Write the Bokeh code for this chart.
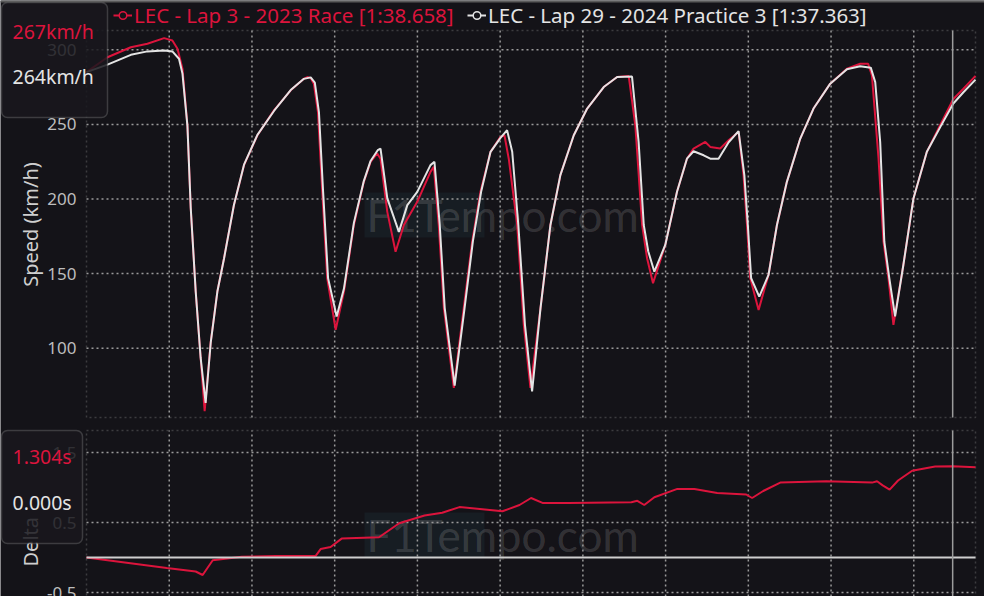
import math
from bokeh.plotting import figure
from bokeh.models import Range1d, Span, Label, BoxAnnotation, Legend, LegendItem
from bokeh.core.properties import value
from bokeh.embed import file_html
from bokeh.resources import INLINE

# ---------------- data ----------------
lap_labels = ["LEC - Lap 3 - 2023 Race [1:38.658]",
              "LEC - Lap 29 - 2024 Practice 3 [1:37.363]"]

red_dist = [0, 127, 268, 368, 469, 519, 550, 580, 610, 630, 660, 690, 714, 751, 791, 831, 891, 952,
            1033, 1133, 1234, 1314, 1335, 1355, 1374, 1399, 1425, 1455, 1506, 1556, 1616, 1676, 1717,
            1757, 1777, 1818, 1868, 1918, 1999, 2079, 2099, 2129, 2160, 2220, 2280, 2331, 2381, 2442,
            2502, 2526, 2552, 2603, 2643, 2683, 2744, 2804, 2864, 2945, 3026, 3126, 3207, 3277, 3317,
            3358, 3388, 3424, 3498, 3569, 3629, 3669, 3740, 3770, 3830, 3881, 3941, 3971, 3992, 4012,
            4062, 4122, 4173, 4233, 4314, 4394, 4495, 4596, 4676, 4724, 4747, 4787, 4817, 4847, 4877,
            4937, 4998, 5079, 5159, 5239, 5300, 5373]
red_speed = [285, 295, 301.7, 304, 307.8, 306.2, 300.7, 287.3, 249.4, 194, 138, 93.5, 57.8, 104.5, 138,
             160.3, 195.9, 222.7, 242.7, 259.4, 272.8, 280.6, 281.7, 281, 277.3, 258.3, 204.8, 146.9,
             112.4, 138, 182.6, 211.5, 224.9, 230.5, 227, 191.4, 164.7, 182.6, 198.1, 218.2, 221.5,
             182.6, 126.9, 73.4, 126.9, 171.4, 204.8, 231.6, 241.6, 242.7, 227, 182.6, 115.7, 73.4,
             126.9, 182.6, 216, 242.7, 260.6, 275, 281.7, 282.4, 249.4, 182.6, 160.3, 143.6, 169.2,
             204.8, 227, 233.8, 238.2, 234.9, 233.8, 239.4, 244.9, 216, 182.6, 146.9, 125.7, 149.1,
             182.6, 211.5, 240.5, 260.6, 277.3, 287.3, 290.6, 290.6, 282.8, 227, 171.4, 146.9, 115.7,
             155.8, 200.4, 231.6, 249.4, 267, 273.9, 282.5]

white_dist = [0, 127, 268, 368, 469, 519, 559, 580, 610, 630, 660, 690, 720, 751, 791, 831, 891, 952,
              1033, 1133, 1234, 1314, 1355, 1380, 1405, 1430, 1460, 1512, 1556, 1616, 1676, 1717, 1760,
              1777, 1818, 1888, 1939, 1999, 2079, 2103, 2135, 2165, 2225, 2285, 2335, 2385, 2442, 2502,
              2542, 2573, 2610, 2650, 2693, 2744, 2804, 2864, 2945, 3026, 3126, 3207, 3297, 3337, 3368,
              3395, 3432, 3498, 3569, 3629, 3669, 3730, 3770, 3820, 3881, 3941, 3976, 3997, 4017, 4066,
              4122, 4173, 4233, 4314, 4394, 4495, 4596, 4676, 4740, 4767, 4797, 4822, 4852, 4887, 4937,
              4998, 5079, 5159, 5239, 5300, 5373]
white_speed = [285, 290, 296.6, 298.9, 299.5, 298.9, 294, 284, 249, 194, 138, 93.5, 63.4, 104, 138, 160,
               196, 223, 243, 259, 273, 280.5, 281.5, 278, 258, 205, 147, 121.3, 140, 184, 212, 225.5,
               232.7, 233.8, 200.4, 178, 195.9, 204.8, 222.7, 224.9, 182.6, 126.9, 75, 126.9, 171.4,
               204.8, 231.6, 241, 246.1, 231.6, 182.6, 115.7, 71.1, 126.9, 182.6, 216, 242.7, 260.6,
               275, 281.7, 282, 238.2, 182.6, 165, 151.3, 169.2, 204.8, 227, 232, 229.3, 227, 227, 238,
               245.5, 216, 182.6, 146.9, 134.6, 149.1, 182.6, 211.5, 240.5, 260.6, 277.3, 287, 289, 288,
               278.3, 238.2, 171.4, 146.9, 121.3, 155.8, 200.4, 231.6, 248, 264, 271.5, 280]

delta_dist = [0, 485, 660, 702, 763, 938, 1143, 1384, 1415, 1475, 1542, 1768, 1890, 2043, 2150, 2254,
              2393, 2514, 2617, 2687, 2756, 2913, 3293, 3329, 3371, 3432, 3571, 3674, 3812, 3987, 4023,
              4090, 4193, 4471, 4748, 4778, 4812, 4854, 4905, 4990, 5129, 5235, 5373]
delta_red = [0, -0.15, -0.2, -0.25, -0.04, 0.01, 0.02, 0.02, 0.12, 0.15, 0.27, 0.29, 0.49, 0.6, 0.64,
             0.72, 0.69, 0.66, 0.75, 0.85, 0.78, 0.78, 0.79, 0.81, 0.75, 0.86, 0.98, 0.98, 0.92, 0.9,
             0.85, 0.95, 1.07, 1.09, 1.07, 1.09, 1.03, 0.97, 1.10, 1.24, 1.30, 1.304, 1.29]
delta_white = [0.0 for _ in delta_dist]   # reference lap

lap_length = 5373
hover_dist = 5235
hover_speed = [267, 264]
hover_delta = [1.304, 0.000]

speed_ticks = [100, 150, 200, 250, 300]
delta_ticks = [-0.5, 0.5, 1.5]
dist_grid = [500, 1000, 1500, 2000, 2500, 3000, 3500, 4000, 4500, 5000]

# ---------------- style / layout (page pixels) ----------------
BG = "#141318"
RED = "#dc143c"
WHITE = "#e4e4e4"
GRID = "#9a9a9a"
FONT = "Noto Sans"

W, H = 984, 596
F_L, F_R = 86, 975              # panel frames, page px
T_TOP, T_BOT = 30, 417          # speed panel
SP_LO, SP_HI = 53.6, 312.9
B_TOP = 430                     # delta panel (bottom runs off the page)
D_REF_PX, D_REF_VAL, D_PX_PER = 452, 1.5, 70.0


def dx(px):
    return (px - F_L) / (F_R - F_L) * lap_length


def sy(py):
    return SP_HI - (py - T_TOP) / (T_BOT - T_TOP) * (SP_HI - SP_LO)


def ly(py):
    return D_REF_VAL - (py - D_REF_PX) / D_PX_PER


DL_HI = ly(B_TOP)
DL_LO = ly(H + 30)

p = figure(width=W, height=H, x_range=Range1d(dx(0), dx(W)), y_range=Range1d(sy(H), sy(0)),
           x_axis_location=None, y_axis_location=None, min_border=0,
           output_backend="svg", toolbar_location=None)
p.extra_y_ranges = {"delta": Range1d(ly(H), ly(0))}
p.background_fill_color = BG
p.border_fill_color = BG
p.outline_line_color = None
p.grid.visible = False

grid_kw = dict(line_color=GRID, line_dash="2 3", line_width=1.5)

# ---- panel frames and grids ----
for yname, lo, hi, ticks in (("default", SP_LO, SP_HI, speed_ticks),
                             ("delta", DL_LO, DL_HI, delta_ticks)):
    p.add_layout(BoxAnnotation(left=0, right=lap_length, bottom=lo, top=hi, y_range_name=yname,
                               fill_alpha=0, line_color=GRID, line_dash="2 3", line_width=1.5,
                               level="underlay"))
    p.segment(x0=dist_grid, x1=dist_grid, y0=[lo] * len(dist_grid), y1=[hi] * len(dist_grid),
              y_range_name=yname, **grid_kw)
    p.segment(x0=[0] * len(ticks), x1=[lap_length] * len(ticks), y0=ticks, y1=ticks,
              y_range_name=yname, **grid_kw)

# ---- watermarks ----
for yname, yfun, yt, yb in (("default", sy, 192, 237), ("delta", ly, 512, 557)):
    p.add_layout(BoxAnnotation(left=dx(364), right=dx(484), top=yfun(yt), bottom=yfun(yb),
                               y_range_name=yname, fill_color="#1d3139", fill_alpha=0.35,
                               line_alpha=0, level="underlay"))
    p.add_layout(Label(x=dx(502), y=yfun((yt + yb) / 2), y_range_name=yname, text="F1Tempo.com",
                       text_align="center", text_baseline="middle", text_font="Lato",
                       text_font_size="44px", text_color="#ffffff", text_alpha=0.15,
                       level="underlay"))

# ---- tick labels ----
tick_kw = dict(text_align="right", text_baseline="middle", text_font=value(FONT),
               text_font_size="17px", text_color="#bdbdbd")
p.text(x=[dx(76)] * len(speed_ticks), y=speed_ticks, text=[str(t) for t in speed_ticks], **tick_kw)
p.text(x=[dx(76)] * len(delta_ticks), y=delta_ticks, text=[f"{t:g}" for t in delta_ticks],
       y_range_name="delta", **tick_kw)

p.add_layout(Label(x=dx(30), y=sy(224), text="Speed (km/h)", angle=math.pi / 2,
                   text_align="center", text_baseline="middle", text_font=FONT,
                   text_font_size="20px", text_color="#cfcfcf"))
p.add_layout(Label(x=dx(30), y=ly(566), y_range_name="delta", text="Delta", angle=math.pi / 2,
                   text_align="left", text_baseline="middle", text_font=FONT,
                   text_font_size="20px", text_color="#cfcfcf"))

# ---- speed traces ----
r_red = p.line(red_dist, red_speed, line_color=RED, line_width=2)
r_white = p.line(white_dist, white_speed, line_color=WHITE, line_width=2)
# legend-only markers: zero-size points (the legend draws its own marker size)
m_red = p.scatter(red_dist[:1], red_speed[:1], marker="circle", size=0, line_color=RED,
                  fill_color=BG, line_width=1.5)
m_white = p.scatter(white_dist[:1], white_speed[:1], marker="circle", size=0, line_color=WHITE,
                    fill_color=BG, line_width=1.5)

# ---- delta traces ----
p.line(delta_dist, delta_red, line_color=RED, line_width=2, y_range_name="delta")
p.line(delta_dist, delta_white, line_color="#cfcfcf", line_width=2, y_range_name="delta")

# ---- hover cursor ----
p.segment(x0=[hover_dist], x1=[hover_dist], y0=[SP_LO], y1=[SP_HI], line_color="#9c9c9c",
          line_width=1.5)
p.segment(x0=[hover_dist], x1=[hover_dist], y0=[DL_LO], y1=[DL_HI], line_color="#9c9c9c",
          line_width=1.5, y_range_name="delta")

# ---- legends ----
for item, rends, col, x0 in ((lap_labels[0], [r_red, m_red], RED, 113),
                             (lap_labels[1], [r_white, m_white], WHITE, 467)):
    p.add_layout(Legend(items=[LegendItem(label=item, renderers=rends)],
                        location=(x0, H - 29), orientation="horizontal",
                        padding=0, margin=0, spacing=0, glyph_width=19, glyph_height=28,
                        label_height=28, label_standoff=2, label_text_font=FONT,
                        label_text_font_size="20.5px", label_text_color=col,
                        label_text_baseline="middle",
                        background_fill_alpha=0, border_line_alpha=0))

# top page rule
p.add_layout(Span(location=sy(1), dimension="width", line_color="#5a5a5a", line_width=2))

# ---- tooltip boxes ----
box_kw = dict(fill_color="#19181d", fill_alpha=0.85, line_color="#9a9a9a", line_width=1.5,
              border_radius=6, level="overlay")
txt_kw = dict(text_font=FONT, text_font_size="19.5px", text_baseline="middle", level="overlay")
p.add_layout(BoxAnnotation(left=dx(1), right=dx(107), top=sy(2), bottom=sy(117), **box_kw))
p.add_layout(Label(x=dx(12), y=sy(31), text=f"{hover_speed[0]}km/h", text_color=RED, **txt_kw))
p.add_layout(Label(x=dx(12), y=sy(76), text=f"{hover_speed[1]}km/h", text_color=WHITE, **txt_kw))

p.add_layout(BoxAnnotation(left=dx(1), right=dx(82), top=ly(430), bottom=ly(543),
                           y_range_name="delta", **box_kw))
p.add_layout(Label(x=dx(12), y=ly(456), y_range_name="delta", text=f"{hover_delta[0]:.3f}s",
                   text_color=RED, **txt_kw))
p.add_layout(Label(x=dx(12), y=ly(502), y_range_name="delta", text=f"{hover_delta[1]:.3f}s",
                   text_color=WHITE, **txt_kw))

html = file_html(p, INLINE)
html = html.replace("<body>", '<body style="background-color:#141318;">', 1)
open("out.html", "w").write(html)
